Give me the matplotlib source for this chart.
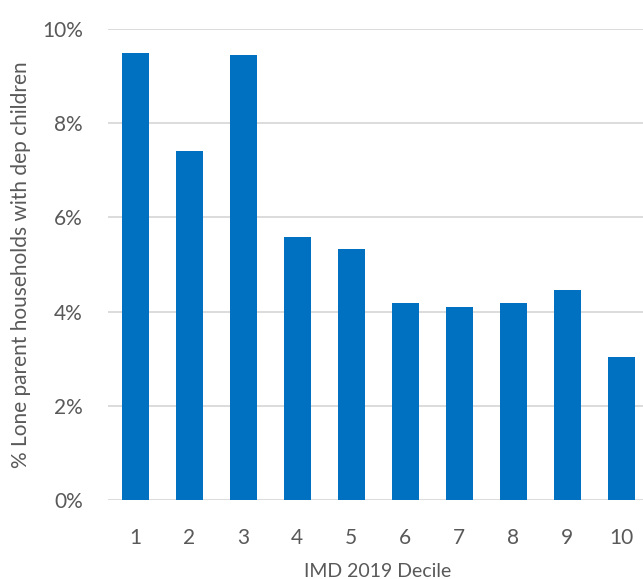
import matplotlib.pyplot as plt
from matplotlib.ticker import PercentFormatter

# Lone parent households with dependent children by IMD 2019 decile
deciles = ["1", "2", "3", "4", "5", "6", "7", "8", "9", "10"]
lone_parent_pct = [9.50, 7.42, 9.45, 5.58, 5.32, 4.19, 4.10, 4.19, 4.45, 3.04]

plt.rcParams["font.family"] = ["Lato", "DejaVu Sans"]

fig = plt.figure(figsize=(6.43, 5.79), dpi=100)
ax = fig.add_axes([108 / 643, 79 / 579, 540 / 643, 471 / 579])

x = range(1, len(deciles) + 1)
ax.bar(x, lone_parent_pct, width=0.5, color="#0070C0", zorder=3)

ax.set_xlim(0.5, 10.5)
ax.set_ylim(0, 10)
ax.set_yticks([0, 2, 4, 6, 8, 10])
ax.yaxis.set_major_formatter(PercentFormatter(decimals=0))
ax.set_xticks(list(x))
ax.set_xticklabels(deciles)

ax.grid(axis="y", color="#d9d9d9", linewidth=1.3, zorder=0)
for side in ["top", "right", "left", "bottom"]:
    ax.spines[side].set_visible(False)
ax.tick_params(axis="both", length=0, colors="#595959", labelsize=15)
ax.tick_params(axis="y", pad=18)
ax.tick_params(axis="x", pad=20)

ax.set_xlabel("IMD 2019 Decile", fontsize=14, color="#595959", labelpad=11)
ax.set_ylabel("% Lone parent households with dep children", fontsize=15,
              color="#595959", labelpad=8)

plt.savefig("out.png", dpi=100)
